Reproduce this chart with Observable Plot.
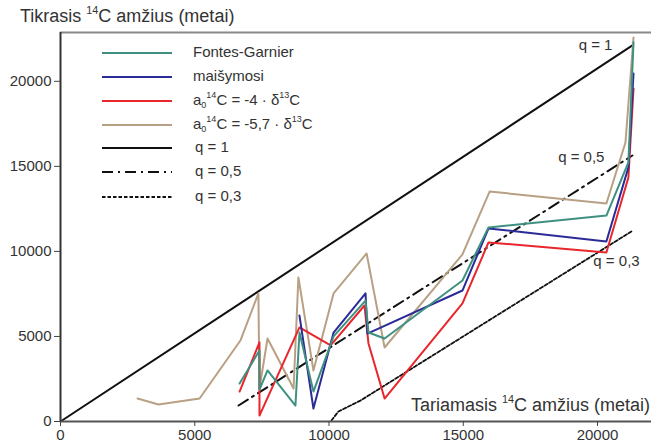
<!DOCTYPE html>
<html>
<head>
<meta charset="utf-8">
<script src="https://cdn.jsdelivr.net/npm/d3@7"></script>
<script src="https://cdn.jsdelivr.net/npm/@observablehq/plot@0.6"></script>
<style>
  html, body { margin: 0; padding: 0; background: #fff; }
  #wrap { position: relative; width: 651px; height: 448px; font-family: "Liberation Sans", Arial, sans-serif; color: #333; }
  .lbl { position: absolute; font-size: 18px; white-space: nowrap; color: #333; }
  .lbl sup, .leg sup { font-size: 0.6em; vertical-align: 0.75em; line-height: 0; }
  .leg sub { font-size: 0.6em; vertical-align: -0.35em; line-height: 0; }
  .leg { position: absolute; font-size: 15px; white-space: nowrap; color: #333; }
  .legline { position: absolute; }
</style>
</head>
<body>
<div id="wrap"></div>
<script>
// ---- data (x: apparent 14C age, y: true 14C age, years) ----
const xTicks = [0, 5000, 10000, 15000, 20000];
const yTicks = [0, 5000, 10000, 15000, 20000];

const fontesGarnier = [
  [6670,2230],[7410,4170],[7410,1880],[7710,3000],[8750,940],[8900,5230],
  [9420,1760],[10170,5000],[11360,7110],[11470,5230],[12070,4880],[14970,8290],
  [15940,11410],[20330,12110],[21150,15230],[21340,22290]
];
const maisymosi = [
  [8900,6230],[9420,760],[10170,5230],[11360,7530],[11430,5170],[14970,7700],
  [15940,11350],[20330,10580],[21150,14940],[21340,20460]
];
const a4 = [
  [6670,1760],[7410,4650],[7410,350],[8900,5530],[10060,4470],[11320,6820],
  [11470,4590],[12070,1350],[14970,6940],[15940,10530],[20330,9940],[21150,14350],
  [21340,19580]
];
const a57 = [
  [2870,1350],[3650,1000],[5180,1350],[6700,4760],[7370,7530],[7410,1940],
  [7710,4880],[8680,1940],[8860,8470],[9420,3000],[10170,7530],[11400,9880],
  [12070,4350],[14970,9820],[15980,13520],[20330,12820],[21040,16400],[21340,22580]
];
const q1 = [[0,0],[21300,22110]];
const q05 = [[6630,940],[21300,15640]];
const q03 = [[10090,60],[10350,590],[11170,1230],[21260,11170]];

const xMax = 22010, yMax = 22870;

const colTeal = "#3f9080", colBlue = "#2b2b98", colRed = "#e8262c", colTan = "#b8a084", colBlack = "#111";

const lineOpts = (c) => ({x: d => d[0], y: d => d[1], stroke: c, strokeWidth: 2, strokeLinejoin: "round"});

const chart = Plot.plot({
  width: 651,
  height: 448,
  marginLeft: 60,
  marginRight: 0,
  marginTop: 32,
  marginBottom: 27,
  style: {fontFamily: "Liberation Sans, Arial, sans-serif", background: "transparent"},
  x: {domain: [0, xMax]},
  y: {domain: [0, yMax]},
  marks: [
    Plot.ruleY([yMax], {stroke: "#888", strokeWidth: 2}),
    Plot.line(q1, {...lineOpts(colBlack), strokeWidth: 2}),
    Plot.line(q05, {...lineOpts(colBlack), strokeWidth: 2, strokeDasharray: "11,5,2,5"}),
    Plot.line(q03, {...lineOpts(colBlack), strokeWidth: 1.8, strokeDasharray: "3.5,2"}),
    Plot.line(a57, lineOpts(colTan)),
    Plot.line(a4, lineOpts(colRed)),
    Plot.line(maisymosi, lineOpts(colBlue)),
    Plot.line(fontesGarnier, lineOpts(colTeal)),
    Plot.text([q1[q1.length - 1]], {x: d => d[0], y: d => d[1], text: () => "q = 1", textAnchor: "end", dx: -20, dy: 0, fontSize: 15, fill: "#333"}),
    Plot.text([q05[q05.length - 1]], {x: d => d[0], y: d => d[1], text: () => "q = 0,5", textAnchor: "end", dx: -28, dy: 2, fontSize: 15, fill: "#333"}),
    Plot.text([q03[q03.length - 1]], {x: d => d[0], y: d => d[1], text: () => "q = 0,3", textAnchor: "start", dx: -38, dy: 30, fontSize: 15, fill: "#333"}),
    Plot.ruleY([0], {stroke: "#555", strokeWidth: 2}),
    Plot.ruleX([0], {stroke: "#333", strokeWidth: 2}),
    Plot.axisX({ticks: xTicks, tickSize: 5, tickPadding: 3, tickFormat: d3.format("d"), fontSize: 15, label: null, stroke: "#444", fill: "#333"}),
    Plot.axisY({ticks: yTicks, tickSize: 6, tickPadding: 3, tickFormat: d3.format("d"), fontSize: 15, label: null, stroke: "#444", fill: "#333"})
  ]
});

const wrap = document.getElementById("wrap");
chart.style.position = "absolute";
chart.style.left = "0px";
chart.style.top = "0px";
wrap.appendChild(chart);

function addHTML(cls, html, left, top) {
  const d = document.createElement("div");
  d.className = cls;
  d.innerHTML = html;
  d.style.left = left + "px";
  d.style.top = top + "px";
  wrap.appendChild(d);
  return d;
}

addHTML("lbl", "Tikrasis <sup>14</sup>C amžius (metai)", 20, 6);
addHTML("lbl", "Tariamasis <sup>14</sup>C amžius (metai)", 411, 395);

const legendItems = [
  {label: "Fontes-Garnier", color: colTeal, dash: null, w: 2},
  {label: "maišymosi", color: colBlue, dash: null, w: 2},
  {label: "a<sub>0</sub><sup>14</sup>C = -4 · δ<sup>13</sup>C", color: colRed, dash: null, w: 2},
  {label: "a<sub>0</sub><sup>14</sup>C = -5,7 · δ<sup>13</sup>C", color: colTan, dash: null, w: 2},
  {label: "q = 1", color: colBlack, dash: null, w: 2},
  {label: "q = 0,5", color: colBlack, dash: "11,5,2,5", w: 2},
  {label: "q = 0,3", color: colBlack, dash: "3.5,2", w: 1.8}
];
const rowY = [53, 77, 101, 125, 148, 172, 197];
legendItems.forEach((it, i) => {
  const y = rowY[i];
  const svg = d3.create("svg").attr("class", "legline").attr("width", 72).attr("height", 6)
    .style("left", "101px").style("top", (y - 3) + "px");
  svg.append("line").attr("x1", 1).attr("x2", 71).attr("y1", 3).attr("y2", 3)
    .attr("stroke", it.color).attr("stroke-width", it.w)
    .attr("stroke-dasharray", it.dash);
  wrap.appendChild(svg.node());
  const isQ = it.label.startsWith("q");
  addHTML("leg", it.label, isQ ? 195 : 193, y - 10);
});
</script>
</body>
</html>
